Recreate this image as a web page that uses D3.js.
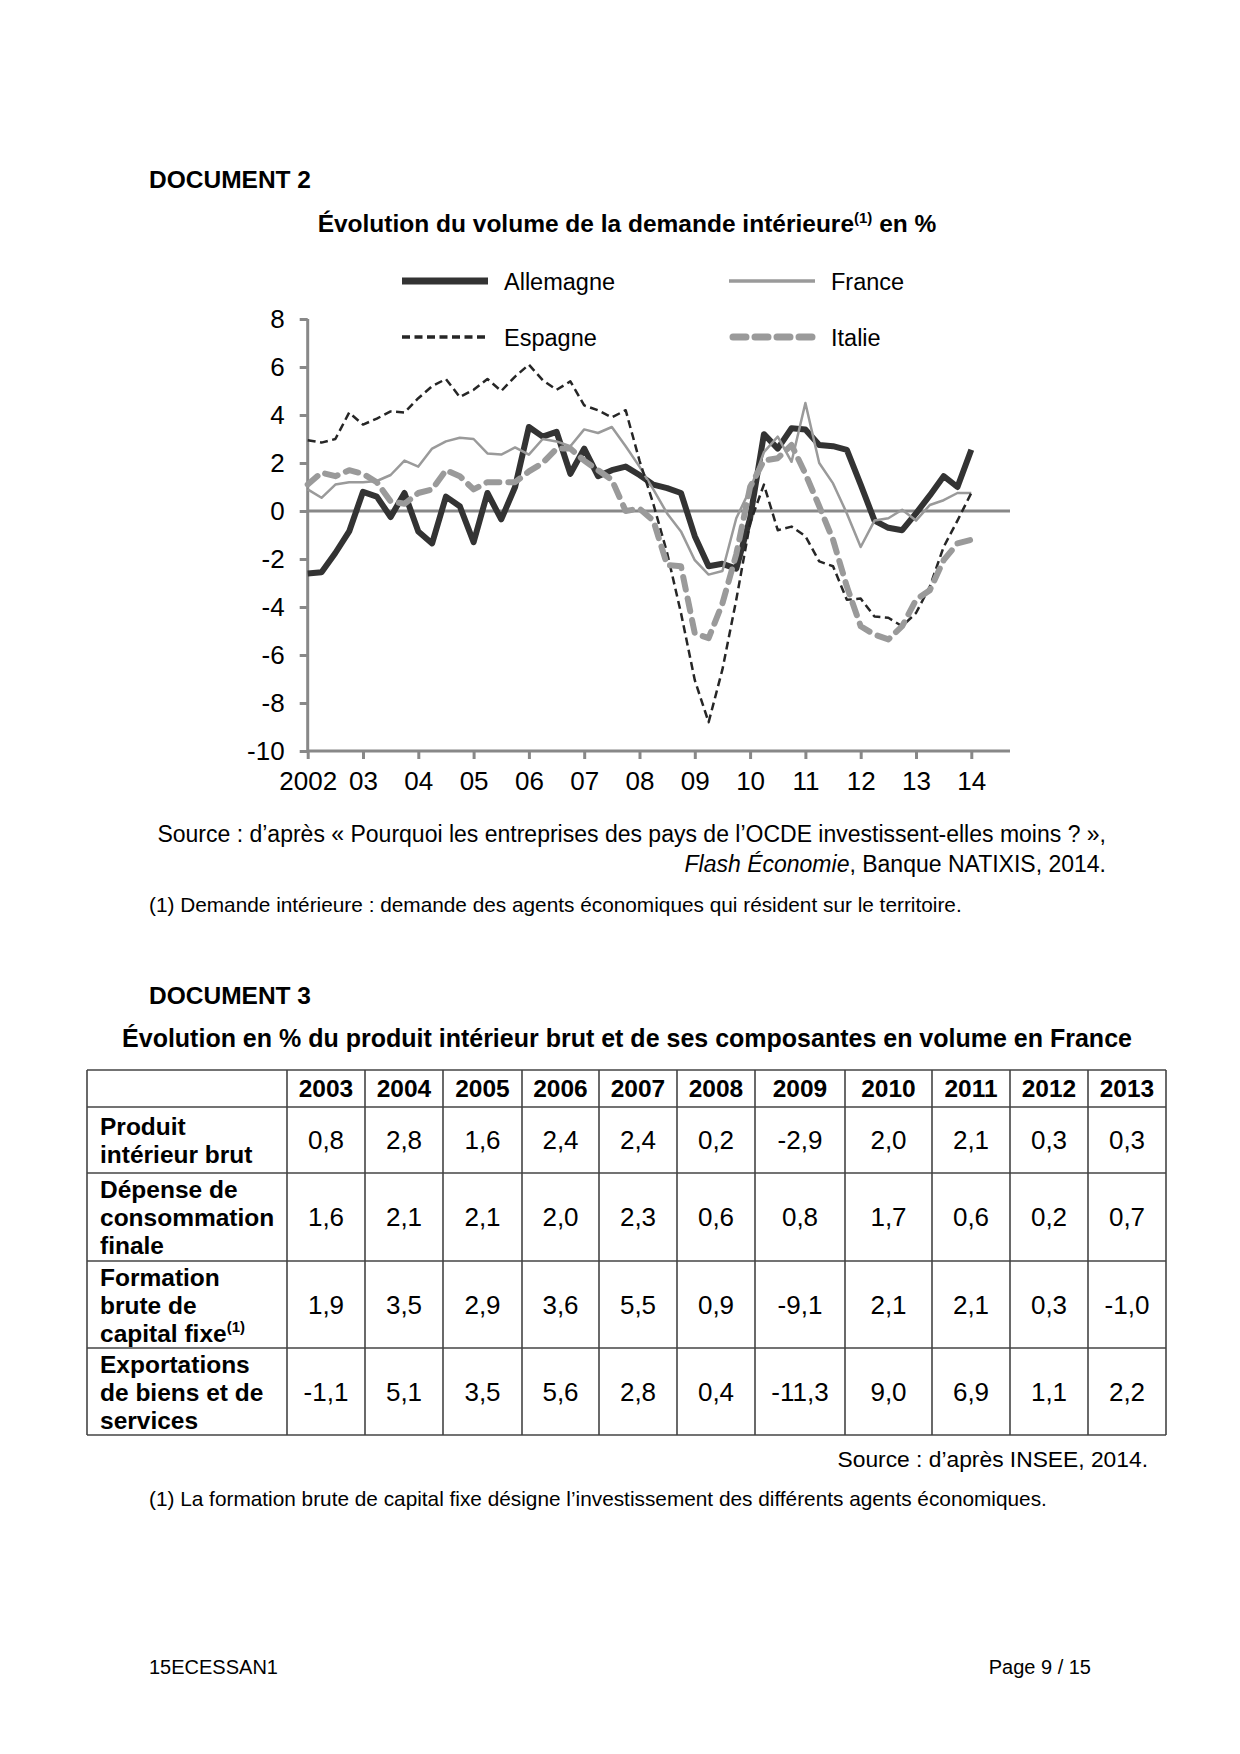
<!DOCTYPE html>
<html>
<head>
<meta charset="utf-8">
<script src="https://cdn.jsdelivr.net/npm/d3@7"></script>
<style>
  body { margin: 0; background: #fff; }
  svg { display: block; font-family: "Liberation Sans", Arial, sans-serif; }
</style>
</head>
<body>
<div id="page"></div>
<script>
// Document 2 : quarterly series, 2002 Q1 -> 2014 Q1
const startYear = 2002;
const allemagne = [-2.6, -2.55, -1.75, -0.85, 0.8, 0.6, -0.25, 0.75, -0.85, -1.35, 0.6, 0.2,
  -1.3, 0.75, -0.35, 1.0, 3.5, 3.1, 3.3, 1.55, 2.6, 1.45, 1.7, 1.85,
  1.5, 1.1, 0.95, 0.75, -1.05, -2.3, -2.2, -2.4, -0.3, 3.2, 2.6, 3.45,
  3.4, 2.75, 2.7, 2.55, 1.1, -0.4, -0.7, -0.8, -0.1, 0.65, 1.45, 1.0, 2.55];
const france = [0.9, 0.55, 1.1, 1.2, 1.2, 1.25, 1.5, 2.1, 1.85, 2.6, 2.9, 3.05,
  3.0, 2.4, 2.35, 2.65, 2.35, 3.0, 2.9, 2.7, 3.4, 3.25, 3.5, 2.7,
  1.85, 0.9, -0.1, -0.85, -2.05, -2.65, -2.5, -0.3, 0.9, 2.45, 3.1, 2.05,
  4.5, 2.0, 1.15, -0.1, -1.5, -0.4, -0.3, 0.05, -0.4, 0.25, 0.45, 0.75, 0.75];
const espagne = [2.95, 2.85, 3.0, 4.1, 3.6, 3.85, 4.15, 4.1, 4.7, 5.2, 5.5, 4.75,
  5.05, 5.5, 5.0, 5.6, 6.1, 5.45, 5.05, 5.4, 4.4, 4.2, 3.9, 4.2,
  2.1, 0.3, -1.75, -4.25, -7.05, -8.8, -6.6, -3.7, -0.5, 1.1, -0.8, -0.65,
  -1.05, -2.1, -2.3, -3.7, -3.65, -4.4, -4.45, -4.8, -4.25, -3.15, -1.5, -0.4, 0.75];
const italie = [1.1, 1.6, 1.45, 1.7, 1.55, 1.2, 0.4, 0.3, 0.75, 0.9, 1.7, 1.45,
  0.9, 1.2, 1.2, 1.2, 1.65, 2.0, 2.6, 2.6, 2.1, 1.7, 1.3, 0.0,
  0.1, -0.4, -2.25, -2.3, -5.1, -5.3, -3.85, -1.8, 1.0, 2.1, 2.2, 2.75,
  1.55, 0.2, -1.2, -3.15, -4.8, -5.15, -5.35, -4.8, -3.7, -3.3, -2.05, -1.35, -1.2];

const xTickYears = d3.range(2002, 2015);
const xTickLabels = ["2002", "03", "04", "05", "06", "07", "08", "09", "10", "11", "12", "13", "14"];
const yTicks = [-10, -8, -6, -4, -2, 0, 2, 4, 6, 8];

// Document 3 : table
const tableYears = ["2003", "2004", "2005", "2006", "2007", "2008", "2009", "2010", "2011", "2012", "2013"];
const rowLabels = [
  ["Produit", "intérieur brut"],
  ["Dépense de", "consommation", "finale"],
  ["Formation", "brute de", "capital fixe"],
  ["Exportations", "de biens et de", "services"]
];
const pib = [0.8, 2.8, 1.6, 2.4, 2.4, 0.2, -2.9, 2.0, 2.1, 0.3, 0.3];
const conso = [1.6, 2.1, 2.1, 2.0, 2.3, 0.6, 0.8, 1.7, 0.6, 0.2, 0.7];
const fbcf = [1.9, 3.5, 2.9, 3.6, 5.5, 0.9, -9.1, 2.1, 2.1, 0.3, -1.0];
const exportations = [-1.1, 5.1, 3.5, 5.6, 2.8, 0.4, -11.3, 9.0, 6.9, 1.1, 2.2];

const series = [
  { name: "Allemagne", values: allemagne, color: "#333", width: 6, dash: null },
  { name: "France", values: france, color: "#9a9a9a", width: 2.5, dash: null },
  { name: "Espagne", values: espagne, color: "#262626", width: 2.5, dash: "8,4.5" },
  { name: "Italie", values: italie, color: "#9a9a9a", width: 6, dash: "13,9" }
];

const W = 1240, H = 1754;
const svg = d3.select("#page").append("svg").attr("width", W).attr("height", H);
svg.append("rect").attr("width", W).attr("height", H).attr("fill", "#fff");

const fr = d3.formatLocale({ decimal: ",", thousands: " ", grouping: [3], currency: ["", " €"], minus: "-" });

// ---------- Document 2 ----------
svg.append("text").attr("x", 149).attr("y", 188)
  .attr("font-size", 24.5).attr("font-weight", "bold").text("DOCUMENT 2");

const t1 = svg.append("text").attr("x", 627).attr("y", 232).attr("text-anchor", "middle")
  .attr("font-size", 24.5).attr("font-weight", "bold");
t1.append("tspan").text("Évolution du volume de la demande intérieure");
t1.append("tspan").attr("font-size", 15).attr("dy", -9).text("(1)");
t1.append("tspan").attr("dy", 9).text(" en %");

const x = d3.scaleLinear().domain([2002, 2014.7]).range([307.7, 1010]);
const y = d3.scaleLinear().domain([-10, 8]).range([751, 319]);
const axisColor = "#888";

const yAxis = svg.append("g").attr("transform", "translate(307.7,0)")
  .call(d3.axisLeft(y).tickValues(yTicks).tickSize(8).tickPadding(15).tickFormat(fr.format("d")));
const xAxis = svg.append("g").attr("transform", "translate(0,751)")
  .call(d3.axisBottom(x).tickValues(xTickYears).tickSize(8).tickPadding(13)
    .tickFormat((d, i) => xTickLabels[i]));
[yAxis, xAxis].forEach(g => {
  g.select(".domain").attr("stroke", axisColor).attr("stroke-width", 3);
  g.selectAll(".tick line").attr("stroke", axisColor).attr("stroke-width", 3);
  g.selectAll(".tick text").attr("fill", "#000").attr("font-size", 26)
    .attr("font-family", "'Liberation Sans', Arial, sans-serif");
});
xAxis.select(".domain").attr("d", `M${x(2002)},0H${x(2014.7)}`);
yAxis.select(".domain").attr("d", `M0,${y(-10)}V${y(8)}`);

// zero line
svg.append("line").attr("x1", x(2002)).attr("x2", x(2014.7))
  .attr("y1", y(0)).attr("y2", y(0))
  .attr("stroke", axisColor).attr("stroke-width", 3);

const line = d3.line()
  .x((d, i) => x(startYear + i / 4))
  .y(d => y(d));

svg.append("g").selectAll("path")
  .data(series)
  .join("path")
  .attr("d", d => line(d.values))
  .attr("fill", "none")
  .attr("stroke", d => d.color)
  .attr("stroke-width", d => d.width)
  .attr("stroke-dasharray", d => d.dash)
  .attr("stroke-linejoin", "round")
  .attr("stroke-linecap", d => d.dash && d.width > 4 ? "round" : "butt");

// legend
const legendPos = [[402, 281], [729, 281], [402, 337], [729, 337]];
const legend = svg.append("g").selectAll("g")
  .data(series)
  .join("g")
  .attr("transform", (d, i) => `translate(${legendPos[i][0]},${legendPos[i][1]})`);
legend.append("line")
  .attr("x1", d => d.dash && d.width > 4 ? 4 : 0).attr("x2", 86)
  .attr("stroke", d => d.color)
  .attr("stroke-width", d => d.width + 1)
  .attr("stroke-dasharray", d => d.dash)
  .attr("stroke-linecap", d => d.dash && d.width > 4 ? "round" : "butt");
legend.append("text").attr("x", 102).attr("y", 8.5)
  .attr("font-size", 23.5).text(d => d.name);

svg.append("text").attr("x", 1106).attr("y", 842).attr("text-anchor", "end")
  .attr("font-size", 23)
  .text("Source : d’après « Pourquoi les entreprises des pays de l’OCDE investissent-elles moins ? »,");
const src2 = svg.append("text").attr("x", 1106).attr("y", 872).attr("text-anchor", "end")
  .attr("font-size", 23);
src2.append("tspan").attr("font-style", "italic").text("Flash Économie");
src2.append("tspan").text(", Banque NATIXIS, 2014.");

svg.append("text").attr("x", 149).attr("y", 912).attr("font-size", 20.8)
  .text("(1) Demande intérieure : demande des agents économiques qui résident sur le territoire.");

// ---------- Document 3 ----------
svg.append("text").attr("x", 149).attr("y", 1004)
  .attr("font-size", 24.5).attr("font-weight", "bold").text("DOCUMENT 3");
svg.append("text").attr("x", 627).attr("y", 1047).attr("text-anchor", "middle")
  .attr("font-size", 25).attr("font-weight", "bold")
  .text("Évolution en % du produit intérieur brut et de ses composantes en volume en France");

const colEdges = [87, 287, 365, 443, 522, 599, 677, 755, 845, 932, 1010, 1088, 1166];
const rowEdges = [1070, 1107, 1173, 1261, 1348, 1435];
const tableRows = [pib, conso, fbcf, exportations];
const fmt = fr.format(".1f");

const table = svg.append("g");
table.selectAll("line.v").data(colEdges).join("line").attr("class", "v")
  .attr("x1", d => d).attr("x2", d => d)
  .attr("y1", rowEdges[0]).attr("y2", rowEdges[rowEdges.length - 1])
  .attr("stroke", "#444").attr("stroke-width", 1.6);
table.selectAll("line.h").data(rowEdges).join("line").attr("class", "h")
  .attr("x1", colEdges[0]).attr("x2", colEdges[colEdges.length - 1])
  .attr("y1", d => d).attr("y2", d => d)
  .attr("stroke", "#444").attr("stroke-width", 1.6);

const colMid = i => (colEdges[i + 1] + colEdges[i + 2]) / 2;
const rowMid = r => (rowEdges[r + 1] + rowEdges[r + 2]) / 2;

table.selectAll("text.yr").data(tableYears).join("text").attr("class", "yr")
  .attr("x", (d, i) => colMid(i)).attr("y", 1097)
  .attr("text-anchor", "middle").attr("font-size", 24.5).attr("font-weight", "bold")
  .text(d => d);

rowLabels.forEach((lines, r) => {
  const t = table.append("text").attr("font-size", 24.5).attr("font-weight", "bold");
  const first = rowMid(r) - (lines.length - 1) * 14 + 9;
  lines.forEach((l, k) => {
    t.append("tspan").attr("x", 100).attr("y", first + k * 28).text(l);
    if (r === 2 && k === 2) {
      t.append("tspan").attr("font-size", 15).attr("dy", -10).text("(1)");
    }
  });
  table.selectAll(null).data(tableRows[r]).join("text")
    .attr("x", (d, i) => colMid(i)).attr("y", rowMid(r) + 9)
    .attr("text-anchor", "middle").attr("font-size", 26)
    .text(d => fmt(d));
});

svg.append("text").attr("x", 1148).attr("y", 1467).attr("text-anchor", "end")
  .attr("font-size", 22.8).text("Source : d’après INSEE, 2014.");
svg.append("text").attr("x", 149).attr("y", 1506).attr("font-size", 20.8)
  .text("(1) La formation brute de capital fixe désigne l’investissement des différents agents économiques.");

// page footer
svg.append("text").attr("x", 149).attr("y", 1674).attr("font-size", 20).text("15ECESSAN1");
svg.append("text").attr("x", 1091).attr("y", 1674).attr("text-anchor", "end")
  .attr("font-size", 20).text("Page 9 / 15");
</script>
</body>
</html>
